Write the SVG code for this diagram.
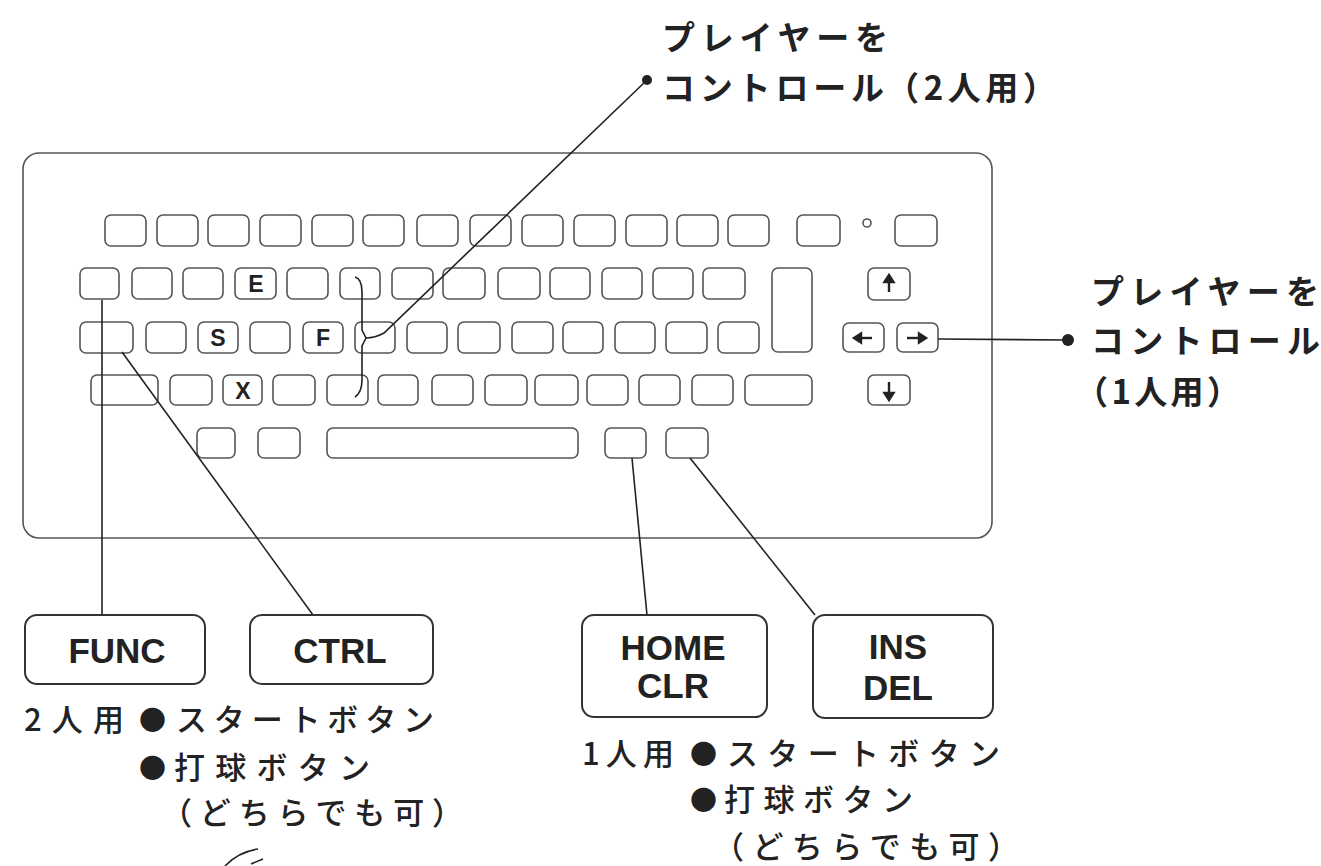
<svg xmlns="http://www.w3.org/2000/svg" width="1321" height="866" viewBox="0 0 1321 866">
<style>
.kb{fill:none;stroke:#555;stroke-width:1.6}
.key{fill:#fff;stroke:#555;stroke-width:1.6}
.box{fill:#fff;stroke:#333;stroke-width:2}
.ln{fill:none;stroke:#222;stroke-width:1.6}
.kl{font-family:"Liberation Sans",Arial,sans-serif;font-weight:700;font-size:23px;fill:#222;text-anchor:middle}
.bl{font-family:"Liberation Sans",Arial,sans-serif;font-weight:700;font-size:35px;fill:#222;text-anchor:middle}
.jb{font-family:"Noto Sans CJK JP",sans-serif;font-weight:700;font-size:33px;fill:#222}
.jm{font-family:"Noto Sans CJK JP",sans-serif;font-weight:500;font-size:31px;fill:#222}
.dot{font-family:"Noto Sans CJK JP",sans-serif;font-size:27px;fill:#222}
.ar{fill:#222;stroke:#222;stroke-width:2.4}
</style>
<rect width="1321" height="866" fill="#fff"/>
<g id="keyboard">
<rect class="kb" x="23" y="153" width="969" height="385" rx="16"/>
<g id="row1">
<rect class="key" x="105" y="215" width="41" height="31" rx="6"/>
<rect class="key" x="157" y="215" width="41" height="31" rx="6"/>
<rect class="key" x="208" y="215" width="41" height="31" rx="6"/>
<rect class="key" x="260" y="215" width="41" height="31" rx="6"/>
<rect class="key" x="312" y="215" width="41" height="31" rx="6"/>
<rect class="key" x="363" y="215" width="41" height="31" rx="6"/>
<rect class="key" x="417" y="215" width="41" height="31" rx="6"/>
<rect class="key" x="470" y="215" width="41" height="31" rx="6"/>
<rect class="key" x="522" y="215" width="41" height="31" rx="6"/>
<rect class="key" x="574" y="215" width="41" height="31" rx="6"/>
<rect class="key" x="626" y="215" width="41" height="31" rx="6"/>
<rect class="key" x="677" y="215" width="41" height="31" rx="6"/>
<rect class="key" x="728" y="215" width="41" height="31" rx="6"/>
<rect class="key" x="797" y="215" width="43" height="31" rx="6"/>
<circle class="kb" cx="867" cy="223" r="4"/>
<rect class="key" x="895" y="215" width="42" height="31" rx="6"/>
</g>
<g id="row2">
<rect class="key" x="80" y="268" width="39" height="31" rx="6"/>
<rect class="key" x="132" y="268" width="40" height="31" rx="6"/>
<rect class="key" x="183" y="268" width="40" height="31" rx="6"/>
<rect class="key" x="235" y="268" width="41" height="31" rx="6"/>
<rect class="key" x="287" y="268" width="41" height="31" rx="6"/>
<rect class="key" x="340" y="268" width="40" height="31" rx="6"/>
<rect class="key" x="392" y="268" width="41" height="31" rx="6"/>
<rect class="key" x="443" y="268" width="42" height="31" rx="6"/>
<rect class="key" x="498" y="268" width="42" height="31" rx="6"/>
<rect class="key" x="550" y="268" width="40" height="31" rx="6"/>
<rect class="key" x="602" y="268" width="40" height="31" rx="6"/>
<rect class="key" x="653" y="268" width="40" height="31" rx="6"/>
<rect class="key" x="703" y="268" width="42" height="31" rx="6"/>
<rect class="key" x="772" y="268" width="40" height="84" rx="6"/>
<rect class="key" x="868" y="268" width="42" height="32" rx="6"/>
<text class="kl" x="256" y="292">E</text>
</g>
<g id="row3">
<rect class="key" x="80" y="322" width="53" height="31" rx="6"/>
<rect class="key" x="146" y="322" width="40" height="31" rx="6"/>
<rect class="key" x="198" y="322" width="40" height="31" rx="6"/>
<rect class="key" x="250" y="322" width="40" height="31" rx="6"/>
<rect class="key" x="303" y="322" width="40" height="31" rx="6"/>
<rect class="key" x="355" y="322" width="40" height="31" rx="6"/>
<rect class="key" x="407" y="322" width="40" height="31" rx="6"/>
<rect class="key" x="458" y="322" width="42" height="31" rx="6"/>
<rect class="key" x="512" y="322" width="41" height="31" rx="6"/>
<rect class="key" x="563" y="322" width="40" height="31" rx="6"/>
<rect class="key" x="615" y="322" width="40" height="31" rx="6"/>
<rect class="key" x="666" y="322" width="41" height="31" rx="6"/>
<rect class="key" x="718" y="322" width="41" height="31" rx="6"/>
<rect class="key" x="843" y="323" width="41" height="29" rx="6"/>
<rect class="key" x="897" y="323" width="41" height="29" rx="6"/>
<text class="kl" x="218" y="346">S</text>
<text class="kl" x="323" y="346">F</text>
</g>
<g id="row4">
<rect class="key" x="91" y="375" width="67" height="30" rx="6"/>
<rect class="key" x="170" y="375" width="42" height="30" rx="6"/>
<rect class="key" x="223" y="375" width="39" height="30" rx="6"/>
<rect class="key" x="273" y="375" width="42" height="30" rx="6"/>
<rect class="key" x="327" y="375" width="41" height="30" rx="6"/>
<rect class="key" x="378" y="375" width="40" height="30" rx="6"/>
<rect class="key" x="432" y="375" width="41" height="30" rx="6"/>
<rect class="key" x="485" y="375" width="42" height="30" rx="6"/>
<rect class="key" x="535" y="375" width="43" height="30" rx="6"/>
<rect class="key" x="587" y="375" width="41" height="30" rx="6"/>
<rect class="key" x="639" y="375" width="41" height="30" rx="6"/>
<rect class="key" x="692" y="375" width="41" height="30" rx="6"/>
<rect class="key" x="745" y="375" width="67" height="30" rx="6"/>
<rect class="key" x="868" y="375" width="42" height="30" rx="6"/>
<text class="kl" x="243" y="399">X</text>
</g>
<g id="row5">
<rect class="key" x="197" y="428" width="38" height="30" rx="6"/>
<rect class="key" x="258" y="428" width="42" height="30" rx="6"/>
<rect class="key" x="327" y="428" width="251" height="30" rx="6"/>
<rect class="key" x="605" y="428" width="41" height="30" rx="6"/>
<rect class="key" x="666" y="428" width="42" height="30" rx="6"/>
</g>
<g id="arrows">
<path class="ar" d="M889,292 V281"/><path class="ar" stroke-width="1" d="M884.5,282 L889,275 L893.5,282 Z"/>
<path class="ar" d="M872,338 H860"/><path class="ar" stroke-width="1" d="M861,333.5 L854,338 L861,342.5 Z"/>
<path class="ar" d="M907,338 H920"/><path class="ar" stroke-width="1" d="M919,333.5 L926,338 L919,342.5 Z"/>
<path class="ar" d="M889,382 V394"/><path class="ar" stroke-width="1" d="M884.5,393 L889,400 L893.5,393 Z"/>
</g>
</g>
<g id="connectors">
<line class="ln" x1="102" y1="300" x2="102" y2="615"/>
<line class="ln" x1="122" y1="352" x2="313" y2="615"/>
<path class="ln" d="M355,277 Q362,279 362,292 L362,330 L366,338 L362,346 L362,380 Q362,392 355,397"/>
<path class="ln" d="M366,338 Q375,338 384,333 L647,80"/>
<circle cx="647" cy="80" r="5" fill="#222"/>
<line class="ln" x1="632" y1="458" x2="647" y2="615"/>
<line class="ln" x1="690" y1="458" x2="815" y2="615"/>
<line class="ln" x1="938" y1="339" x2="1068" y2="340"/>
<circle cx="1068" cy="340" r="6" fill="#222"/>
</g>
<g id="label-top">
<text class="jb" x="662" y="50" textLength="226" lengthAdjust="spacing">プレイヤーを</text>
<text class="jb" x="662" y="100" textLength="222" lengthAdjust="spacing">コントロール</text>
<text class="jb" x="886" y="100" textLength="170" lengthAdjust="spacing">（2人用）</text>
</g>
<g id="label-right">
<text class="jb" x="1091" y="304" textLength="228" lengthAdjust="spacing">プレイヤーを</text>
<text class="jb" x="1091" y="353" textLength="229" lengthAdjust="spacing">コントロール</text>
<text class="jb" x="1075" y="404" textLength="165" lengthAdjust="spacing">（1人用）</text>
</g>
<g id="node-func">
<rect class="box" x="25" y="615" width="180" height="69" rx="12"/>
<text class="bl" x="117" y="663">FUNC</text>
</g>
<g id="node-ctrl">
<rect class="box" x="250" y="615" width="183" height="69" rx="12"/>
<text class="bl" x="340" y="663">CTRL</text>
</g>
<g id="node-home">
<rect class="box" x="582" y="615" width="185" height="102" rx="12"/>
<text class="bl" x="673" y="660">HOME</text>
<text class="bl" x="673" y="698">CLR</text>
</g>
<g id="node-ins">
<rect class="box" x="813" y="615" width="180" height="103" rx="12"/>
<text class="bl" x="898" y="659">INS</text>
<text class="bl" x="898" y="700">DEL</text>
</g>
<g id="label-2p">
<text class="jm" x="24" y="731" textLength="100" lengthAdjust="spacing">2人用</text>
<text class="dot" x="139" y="730">●</text>
<text class="jm" x="176" y="731" textLength="258" lengthAdjust="spacing">スタートボタン</text>
<text class="dot" x="139" y="778">●</text>
<text class="jm" x="174" y="779" textLength="196" lengthAdjust="spacing">打球ボタン</text>
<text class="jm" x="161" y="824" textLength="302" lengthAdjust="spacing">（どちらでも可）</text>
</g>
<g id="label-1p">
<text class="jm" x="582" y="765" textLength="92" lengthAdjust="spacing">1人用</text>
<text class="dot" x="690" y="764">●</text>
<text class="jm" x="727" y="765" textLength="273" lengthAdjust="spacing">スタートボタン</text>
<text class="dot" x="690" y="810">●</text>
<text class="jm" x="724" y="811" textLength="189" lengthAdjust="spacing">打球ボタン</text>
<text class="jm" x="713" y="858" textLength="306" lengthAdjust="spacing">（どちらでも可）</text>
</g>
<path class="ln" stroke-width="2" d="M225,866 Q238,852 258,849 M251,864 L263,859"/>
</svg>
